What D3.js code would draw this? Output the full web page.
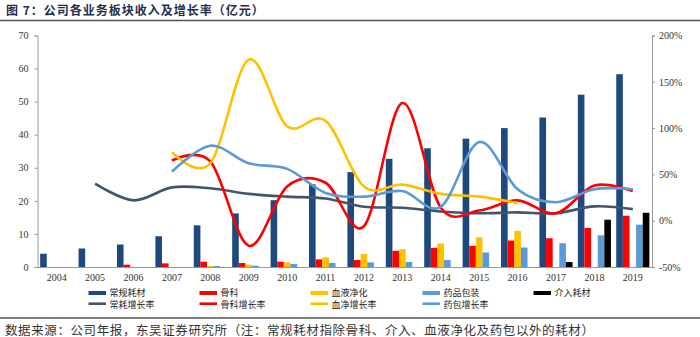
<!DOCTYPE html>
<html>
<head>
<meta charset="utf-8">
<script src="https://cdn.jsdelivr.net/npm/d3@7"></script>
<style>
  html, body { margin: 0; padding: 0; background: #fff; }
  svg { display: block; }
</style>
</head>
<body>
<svg id="chart" width="700" height="337"></svg>
<script>
// ---------- data ----------
const years = ["2004","2005","2006","2007","2008","2009","2010","2011","2012","2013","2014","2015","2016","2017","2018","2019"];
const regular = [4.0,5.6,6.8,9.3,12.6,16.2,20.2,25.0,28.7,32.7,35.9,38.8,42.0,45.2,52.1,58.3];
const ortho   = [null,null,0.7,1.1,1.6,1.2,1.6,2.3,2.1,4.9,5.8,6.4,8.0,8.7,11.8,15.5];
const blood   = [null,null,null,null,0.3,0.7,1.4,2.9,3.9,5.4,7.1,9.0,10.9,null,null,null];
const pharma  = [null,null,null,null,0.3,0.4,0.9,1.2,1.4,1.5,2.1,4.4,5.9,7.2,9.6,12.8];
const interv  = [null,null,null,null,null,null,null,null,null,null,null,null,null,1.5,14.3,16.4];

const regularGrowth = [null,40,22,36,35,29,26,24,15,14,10,8,9,8,15.5,12.5];
const orthoGrowth   = [null,null,null,65,64,-27,37,41,-6,127,14,11,22,8,38,32];
const bloodGrowth   = [null,null,null,74,62,174,102,108,37,39,29,26,19,null,null,null];
const pharmaGrowth  = [null,null,null,53,81,62,56,30,26,32,15,85,34,20,34,34];

const leftTicks  = [0,10,20,30,40,50,60,70];
const rightTicks = [-50,0,50,100,150,200];

const barSeriesNames  = ["常规耗材","骨科","血液净化","药品包装","介入耗材"];
const lineSeriesNames = ["常耗增长率","骨科增长率","血净增长率","药包增长率"];
const barColors  = ["#1F497D","#FF0000","#FFC000","#5B9BD5","#000000"];
const lineColors = ["#44546A","#FF0000","#FFC000","#5B9BD5"];

const titleText  = "图 7：公司各业务板块收入及增长率（亿元）";
const sourceText = "数据来源：公司年报，东吴证券研究所（注：常规耗材指除骨科、介入、血液净化及药包以外的耗材）";

// ---------- layout ----------
const svg = d3.select("#chart");
const plot = {left: 37.5, right: 652, top: 35.5, bottom: 267};
const cjk = "'Noto Sans CJK SC', 'Noto Sans', sans-serif";
const serif = "'Liberation Serif', 'DejaVu Serif', serif";

// title & rules
svg.append("text").attr("x", 6).attr("y", 14.5).text(titleText)
  .attr("font-family", cjk).attr("font-size", 12).attr("font-weight", "bold")
  .attr("letter-spacing", 1).attr("fill", "#1F2D4D");
svg.append("line").attr("x1", 0).attr("x2", 700).attr("y1", 20.5).attr("y2", 20.5)
  .attr("stroke", "#555").attr("stroke-width", 1.5);
svg.append("line").attr("x1", 0).attr("x2", 700).attr("y1", 318).attr("y2", 318)
  .attr("stroke", "#555").attr("stroke-width", 1.5);
svg.append("text").attr("x", 5).attr("y", 334.5).text(sourceText)
  .attr("font-family", cjk).attr("font-size", 12.5).attr("letter-spacing", 0.6).attr("fill", "#333");

// scales
const x = d3.scaleBand().domain(years).range([plot.left, plot.right]).paddingInner(0).paddingOuter(0);
const xSub = d3.scaleBand().domain(d3.range(5)).range([0, x.bandwidth()]).paddingOuter(0.4).paddingInner(0);
const yL = d3.scaleLinear().domain([0, 70]).range([plot.bottom, plot.top]);
const yR = d3.scaleLinear().domain([-50, 200]).range([plot.bottom, plot.top]);

// axes
const axisL = d3.axisLeft(yL).tickValues(leftTicks).tickSize(3).tickPadding(6);
const axisR = d3.axisRight(yR).tickValues(rightTicks).tickSize(3).tickPadding(4)
  .tickFormat(d => d + "%");
const gL = svg.append("g").attr("transform", `translate(${plot.left},0)`).call(axisL);
const gR = svg.append("g").attr("transform", `translate(${plot.right},0)`).call(axisR);
[gL, gR].forEach(g => {
  g.select(".domain").attr("stroke", "#999");
  g.selectAll(".tick line").attr("stroke", "#999");
  g.selectAll("text").attr("font-family", serif).attr("font-size", 10).attr("fill", "#333");
});
const axisB = d3.axisBottom(x).tickSize(0).tickPadding(7);
const gB = svg.append("g").attr("transform", `translate(0,${plot.bottom})`).call(axisB);
gB.select(".domain").attr("stroke", "#999");
gB.selectAll("text").attr("font-family", serif).attr("font-size", 10).attr("fill", "#333");

// bars
const barSeries = [regular, ortho, blood, pharma, interv];
barSeries.forEach((vals, si) => {
  svg.append("g").selectAll("rect")
    .data(years.map((y, i) => ({y, v: vals[i]})).filter(d => d.v != null))
    .join("rect")
    .attr("x", d => x(d.y) + xSub(si))
    .attr("width", xSub.bandwidth())
    .attr("y", d => yL(d.v))
    .attr("height", d => yL(0) - yL(d.v))
    .attr("fill", barColors[si]);
});

// lines
const lineSeries = [regularGrowth, orthoGrowth, bloodGrowth, pharmaGrowth];
const line = d3.line()
  .defined(d => d.v != null)
  .x(d => x(d.y) + x.bandwidth() / 2)
  .y(d => yR(d.v))
  .curve(d3.curveCatmullRom.alpha(0));
lineSeries.forEach((vals, si) => {
  svg.append("path")
    .datum(years.map((y, i) => ({y, v: vals[i]})).filter(d => d.v != null))
    .attr("d", line)
    .attr("fill", "none")
    .attr("stroke", lineColors[si])
    .attr("stroke-width", 2.6)
    .attr("stroke-linecap", "butt");
});

// legend
const legX = [88.5, 199.5, 310.5, 422.5, 533.5];
const lg = svg.append("g").attr("font-family", cjk).attr("font-size", 9).attr("fill", "#222");
barSeriesNames.forEach((n, i) => {
  lg.append("rect").attr("x", legX[i]).attr("y", 291).attr("width", 17.5).attr("height", 4)
    .attr("fill", barColors[i]);
  lg.append("text").attr("x", legX[i] + 21).attr("y", 296).text(n);
});
lineSeriesNames.forEach((n, i) => {
  lg.append("line").attr("x1", legX[i]).attr("x2", legX[i] + 17.5).attr("y1", 303.7).attr("y2", 303.7)
    .attr("stroke", lineColors[i]).attr("stroke-width", 2.6);
  lg.append("text").attr("x", legX[i] + 21).attr("y", 307.5).text(n);
});
</script>
</body>
</html>
